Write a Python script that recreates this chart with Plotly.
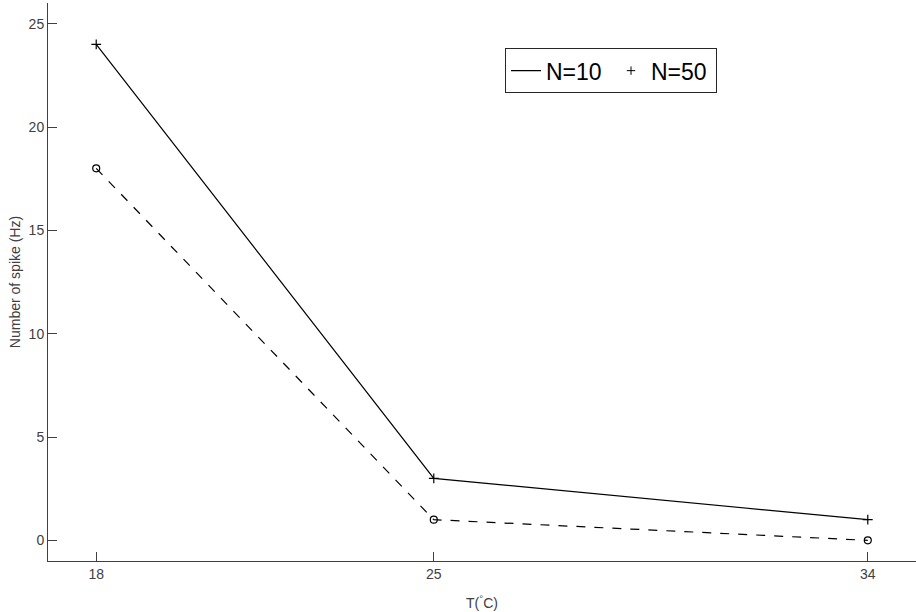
import plotly.graph_objects as go

temps = [18, 25, 34]
n10 = [24, 3, 1]
n50 = [18, 1, 0]
x_ticks = [18, 25, 34]
y_ticks = [0, 5, 10, 15, 20, 25]

axis_col = "#404040"
fig = go.Figure()
fig.add_trace(go.Scatter(x=temps, y=n10, mode="lines+markers", showlegend=False,
                         line=dict(color="black", width=1.2),
                         marker=dict(symbol="cross-thin", size=7, line=dict(color="black", width=1.2))))
fig.add_trace(go.Scatter(x=temps, y=n50, mode="lines+markers", showlegend=False,
                         line=dict(color="black", width=1.2, dash="dash"),
                         marker=dict(symbol="circle-open", size=7, color="black", line=dict(width=1.2))))
# legend entries (MATLAB-style legend)
fig.add_trace(go.Scatter(x=[None], y=[None], mode="lines", name="N=10",
                         line=dict(color="black", width=1.2)))
fig.add_trace(go.Scatter(x=[None], y=[None], mode="markers", name="N=50",
                         marker=dict(symbol="cross-thin", size=6, line=dict(color="black", width=1))))

fig.update_layout(
    width=916, height=612,
    margin=dict(l=48, r=0, t=3, b=51),
    plot_bgcolor="white", paper_bgcolor="white",
    font=dict(family="Liberation Sans, Arial, sans-serif", color=axis_col, size=14),
    legend=dict(orientation="h", x=0.5265, y=0.919, xanchor="left", yanchor="top",
                bordercolor="#262626", borderwidth=1, bgcolor="white",
                font=dict(size=23, color="black"), itemwidth=30, entrywidth=60,
                tracegroupgap=0),
    xaxis=dict(range=[17, 35], tickvals=x_ticks, ticks="inside", ticklen=9,
               tickcolor=axis_col, showline=True, linecolor=axis_col, linewidth=1,
               showgrid=False, zeroline=False, automargin=False,
               title=dict(text="T(<sup>°</sup>C)", font=dict(size=14), standoff=17)),
    yaxis=dict(range=[-1, 26], tickvals=y_ticks, ticks="inside", ticklen=9,
               tickcolor=axis_col, showline=True, linecolor=axis_col, linewidth=1,
               showgrid=False, zeroline=False, automargin=False,
               title=dict(text="Number of spike (Hz)", font=dict(size=14), standoff=4)),
)
fig.write_html("out.html", config={"displayModeBar": False},
               post_script="document.body.style.margin='0';document.body.style.padding='0';")
